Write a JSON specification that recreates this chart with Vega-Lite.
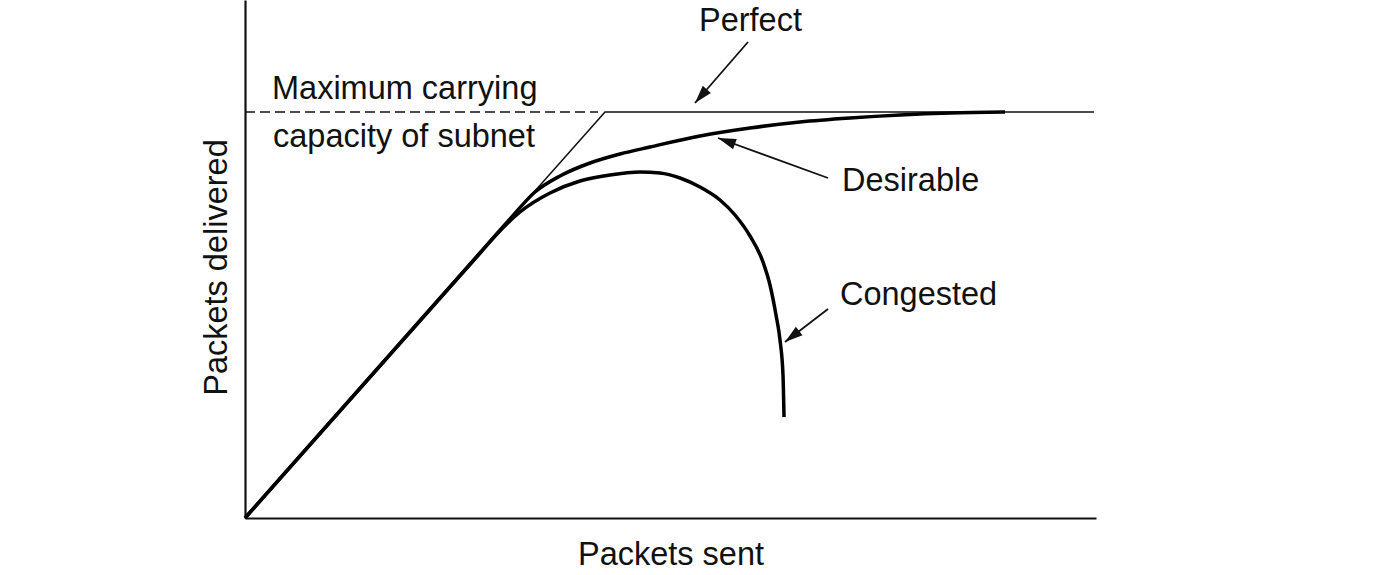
{
  "$schema": "https://vega.github.io/schema/vega-lite/v6.json",
  "autosize": "none",
  "width": 851,
  "height": 518,
  "padding": {"left": 245, "top": 0, "right": 282, "bottom": 57},
  "background": "white",
  "config": {
    "view": {"stroke": null},
    "font": "Liberation Sans",
    "axis": {
      "grid": false,
      "ticks": false,
      "labels": false,
      "domainColor": "#111",
      "domainWidth": 2.2,
      "titleFont": "Liberation Sans",
      "titleFontSize": 32.5,
      "titleFontWeight": "normal",
      "titleColor": "#111"
    },
    "axisX": {"titlePadding": 20},
    "axisY": {"titlePadding": 12, "titleY": 267}
  },
  "datasets": {
    "perfect": [{"x": 0, "y": 0}, {"x": 360, "y": 406}, {"x": 849, "y": 406}],
    "capacity": [{"x": 0, "y": 406}, {"x": 353, "y": 406}],
    "desirable": [
      {"x": 0, "y": 0}, {"x": 235, "y": 265}, {"x": 265, "y": 299}, {"x": 290, "y": 326},
      {"x": 315, "y": 342}, {"x": 345, "y": 355}, {"x": 375, "y": 364}, {"x": 405, "y": 371},
      {"x": 455, "y": 382}, {"x": 505, "y": 390}, {"x": 555, "y": 396}, {"x": 605, "y": 400},
      {"x": 655, "y": 403}, {"x": 705, "y": 405}, {"x": 760, "y": 406}
    ],
    "congested": [
      {"x": 0, "y": 0}, {"x": 235, "y": 265}, {"x": 252, "y": 284}, {"x": 275, "y": 306},
      {"x": 305, "y": 325}, {"x": 335, "y": 337}, {"x": 365, "y": 343}, {"x": 395, "y": 346},
      {"x": 415, "y": 345}, {"x": 435, "y": 340}, {"x": 455, "y": 331}, {"x": 475, "y": 318},
      {"x": 490, "y": 303}, {"x": 505, "y": 282}, {"x": 518, "y": 256}, {"x": 525, "y": 233},
      {"x": 531, "y": 203}, {"x": 535, "y": 178}, {"x": 538, "y": 143}, {"x": 539, "y": 101}
    ],
    "arrows": [
      {"name": "Perfect", "x": 503, "y": 476, "x2": 450, "y2": 415},
      {"name": "Desirable", "x": 583, "y": 340, "x2": 473, "y2": 380},
      {"name": "Congested", "x": 583, "y": 209, "x2": 540, "y2": 176}
    ],
    "labels": [
      {"text": "Perfect", "x": 454, "y": 487},
      {"text": "Maximum carrying", "x": 27, "y": 419},
      {"text": "capacity of subnet", "x": 28, "y": 371},
      {"text": "Desirable", "x": 597, "y": 327},
      {"text": "Congested", "x": 595, "y": 213}
    ]
  },
  "encoding": {
    "x": {"field": "x", "type": "quantitative", "scale": {"domain": [0, 851], "nice": false, "zero": false}, "title": "Packets sent"},
    "y": {"field": "y", "type": "quantitative", "scale": {"domain": [0, 518], "nice": false, "zero": false}, "title": "Packets delivered"}
  },
  "layer": [
    {
      "data": {"name": "capacity"},
      "mark": {"type": "line", "color": "#111", "strokeWidth": 1.5, "strokeDash": [10, 5]}
    },
    {
      "data": {"name": "perfect"},
      "mark": {"type": "line", "color": "#111", "strokeWidth": 1.6}
    },
    {
      "data": {"name": "desirable"},
      "mark": {"type": "line", "color": "#000", "strokeWidth": 3.5, "interpolate": "monotone"}
    },
    {
      "data": {"name": "congested"},
      "mark": {"type": "line", "color": "#000", "strokeWidth": 3.5, "interpolate": "monotone"}
    },
    {
      "data": {"name": "arrows"},
      "mark": {"type": "rule", "color": "#111", "strokeWidth": 1.8},
      "encoding": {"x2": {"field": "x2"}, "y2": {"field": "y2"}}
    },
    {
      "data": {"name": "arrows"},
      "transform": [{"filter": "datum.name === 'Perfect'"}],
      "mark": {"type": "point", "shape": "M0,0L0.6,2L-0.6,2Z", "size": 324, "filled": true, "color": "#111", "opacity": 1, "angle": 221},
      "encoding": {"x": {"field": "x2", "type": "quantitative"}, "y": {"field": "y2", "type": "quantitative"}}
    },
    {
      "data": {"name": "arrows"},
      "transform": [{"filter": "datum.name === 'Desirable'"}],
      "mark": {"type": "point", "shape": "M0,0L0.6,2L-0.6,2Z", "size": 324, "filled": true, "color": "#111", "opacity": 1, "angle": 290},
      "encoding": {"x": {"field": "x2", "type": "quantitative"}, "y": {"field": "y2", "type": "quantitative"}}
    },
    {
      "data": {"name": "arrows"},
      "transform": [{"filter": "datum.name === 'Congested'"}],
      "mark": {"type": "point", "shape": "M0,0L0.6,2L-0.6,2Z", "size": 324, "filled": true, "color": "#111", "opacity": 1, "angle": 232},
      "encoding": {"x": {"field": "x2", "type": "quantitative"}, "y": {"field": "y2", "type": "quantitative"}}
    },
    {
      "data": {"name": "labels"},
      "mark": {"type": "text", "align": "left", "baseline": "alphabetic", "fontSize": 32.5, "font": "Liberation Sans", "color": "#111"},
      "encoding": {"text": {"field": "text"}}
    }
  ]
}
